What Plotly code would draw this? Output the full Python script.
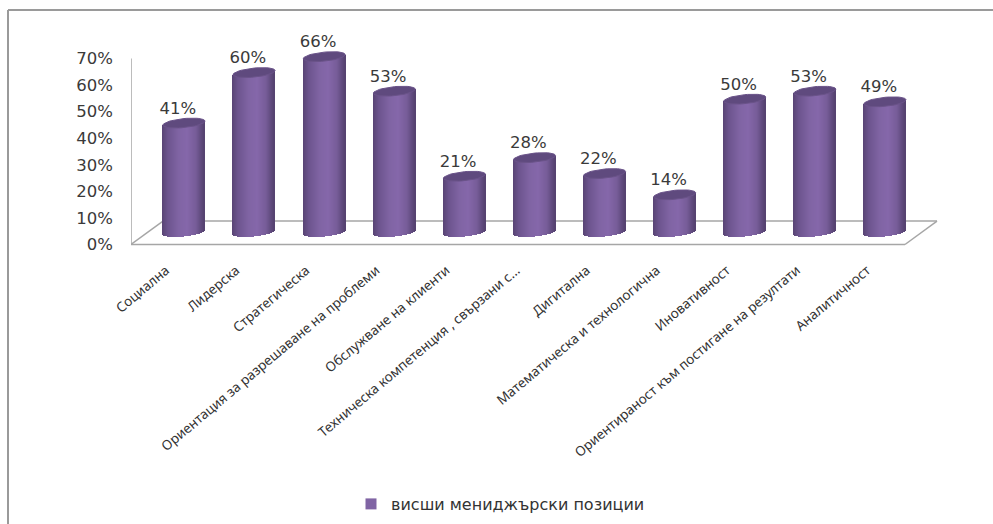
import math
import plotly.graph_objects as go

categories = [
    "Социална", "Лидерска", "Стратегическа", "Ориентация за разрешаване на проблеми",
    "Обслужване на клиенти", "Техническа компетенция , свързани с...", "Дигитална",
    "Математическа и технологична", "Иновативност",
    "Ориентираност към постигане на резултати", "Аналитичност",
]
values = [41, 60, 66, 53, 21, 28, 22, 14, 50, 53, 49]
series_name = "висши мениджърски позиции"
y_ticks = [0, 10, 20, 30, 40, 50, 60, 70]

WIDTH, HEIGHT = 993, 524
LEFT, RIGHT, TOP, BOTTOM = 131, 938, 20, 250
X_FIRST, X_STEP = 184.0, 70.1   # pixel centre of the first cylinder, spacing
PX_PER_UNIT = 2.657
ZERO_TICK_PX, ZERO_BAR_PX = 244.5, 232.0

HALF_W = 21.0 / X_STEP          # cylinder half width in category units
CAP_B = 4.5 / PX_PER_UNIT       # semi-minor axis of the end ellipses
CAP_TILT = 2.0 / PX_PER_UNIT    # ellipses lean up towards the right
N_STRIPS = 42

positions = list(range(len(categories)))
x_range = [(LEFT - X_FIRST) / X_STEP, (RIGHT - X_FIRST) / X_STEP]
y_range = [(ZERO_TICK_PX - BOTTOM) / PX_PER_UNIT, (ZERO_TICK_PX - TOP) / PX_PER_UNIT]
y2_range = [(ZERO_BAR_PX - BOTTOM) / PX_PER_UNIT, (ZERO_BAR_PX - TOP) / PX_PER_UNIT]


def px_x(px):
    return (px - LEFT) / (RIGHT - LEFT)


def px_y(px):
    return (BOTTOM - px) / (BOTTOM - TOP)


def shade(t):
    # cylinder shading across the width, t runs from -1 to 1
    stops = [(-1.0, (88, 68, 116)), (-0.72, (108, 84, 142)), (-0.2, (128, 100, 164)),
             (0.2, (133, 103, 170)), (0.62, (118, 92, 152)), (0.85, (96, 75, 126)),
             (1.0, (84, 66, 110))]
    for (a, ca), (b, cb) in zip(stops, stops[1:]):
        if t <= b:
            f = (t - a) / (b - a)
            return "rgb(%d,%d,%d)" % tuple(round(p + (q - p) * f) for p, q in zip(ca, cb))
    return "rgb(84,66,110)"


fig = go.Figure()

# cylinder bodies: narrow shaded strips whose feet follow the lower ellipse
for i in range(N_STRIPS):
    t = -1 + (2 * i + 1) / N_STRIPS
    low = -CAP_B * math.sqrt(1 - t * t) + CAP_TILT * t
    high = CAP_TILT * t
    fig.add_bar(
        x=[p + t * HALF_W for p in positions],
        y=[v + high - low for v in values],
        base=[low] * len(values),
        width=2 * HALF_W / N_STRIPS * 1.25,
        marker=dict(color=shade(t), line=dict(width=0)),
        yaxis="y2", showlegend=False, hoverinfo="skip",
    )

# top caps of the cylinders
angles = [2 * math.pi * k / 48 for k in range(49)]
for p, v in zip(positions, values):
    fig.add_scatter(
        x=[p + HALF_W * math.cos(a) for a in angles],
        y=[v + CAP_B * math.sin(a) + CAP_TILT * math.cos(a) for a in angles],
        mode="lines", fill="toself", fillcolor="#5f4a7e",
        line=dict(color="#6a5389", width=1),
        yaxis="y2", showlegend=False, hoverinfo="skip",
    )

# value labels sit up and to the left of each cap
fig.add_scatter(
    x=[p - 6.2 / X_STEP for p in positions],
    y=[v + 13.5 / PX_PER_UNIT for v in values],
    text=[f"{v}%" for v in values],
    mode="text", textposition="middle center",
    textfont=dict(family="DejaVu Sans", size=16.5, color="#3a3a3a"),
    yaxis="y2", showlegend=False, hoverinfo="skip",
)

# legend entry
fig.add_scatter(
    x=[None], y=[None], mode="markers", name=series_name,
    marker=dict(symbol="square", size=11, color="#8064a4"),
)

GREY = "#a6a6a6"
floor_back = 8.8
slant = 32 / X_STEP
x0, x1 = (LEFT - X_FIRST) / X_STEP, (905 - X_FIRST) / X_STEP
floor = [
    (x0, 0, x1, 0), (x0 + slant, floor_back, x1 + slant, floor_back),
    (x0, 0, x0 + slant, floor_back), (x1, 0, x1 + slant, floor_back),
    (x0, 0, x0, 70),
]
shapes = [
    dict(type="line", xref="x", yref="y", x0=a, y0=b, x1=c, y1=d, layer="below",
         line=dict(color=GREY, width=1.5))
    for a, b, c, d in floor
]
# outer frame: top and left edges only
shapes += [
    dict(type="line", xref="paper", yref="paper", x0=px_x(8), x1=px_x(993), y0=px_y(10), y1=px_y(10),
         layer="below", line=dict(color="#9a9a9a", width=2)),
    dict(type="line", xref="paper", yref="paper", x0=px_x(8), x1=px_x(8), y0=px_y(10), y1=px_y(524),
         layer="below", line=dict(color="#9a9a9a", width=2)),
]

fig.update_layout(
    width=WIDTH, height=HEIGHT, autosize=False,
    margin=dict(l=LEFT, r=WIDTH - RIGHT, t=TOP, b=HEIGHT - BOTTOM, autoexpand=False),
    paper_bgcolor="white", plot_bgcolor="rgba(0,0,0,0)",
    barmode="overlay", bargap=0, shapes=shapes,
    xaxis=dict(
        range=x_range, tickmode="array",
        tickvals=[p - 18 / X_STEP for p in positions], ticktext=categories,
        tickangle=-40, ticks="", showgrid=False, zeroline=False, showline=False,
        ticklabelstandoff=9, automargin=False,
        tickfont=dict(family="Noto Sans", size=13.5, color="#333333"),
    ),
    yaxis=dict(
        range=y_range, tickmode="array", tickvals=y_ticks,
        ticktext=[f"{v}%" for v in y_ticks], ticks="", showgrid=False, zeroline=False,
        showline=False, ticklabelstandoff=17, automargin=False,
        tickfont=dict(family="DejaVu Sans", size=16.5, color="#3a3a3a"),
    ),
    yaxis2=dict(range=y2_range, overlaying="y", visible=False, fixedrange=True),
    showlegend=True,
    legend=dict(
        x=px_x(351), y=px_y(504), xanchor="left", yanchor="middle", orientation="h",
        bgcolor="rgba(0,0,0,0)", font=dict(family="DejaVu Sans", size=16, color="#333333"),
    ),
)

fig.write_html("out.html", config=dict(displayModeBar=False))
